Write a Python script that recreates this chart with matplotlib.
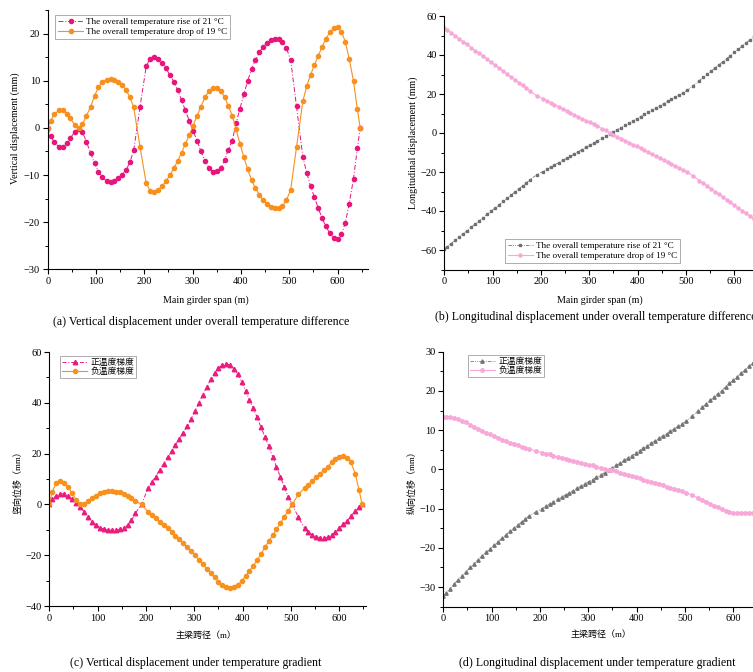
import numpy as np
import matplotlib
matplotlib.use("Agg")
import matplotlib.pyplot as plt
from matplotlib.ticker import MultipleLocator

plt.rcParams['font.family'] = ['Liberation Serif', 'Noto Sans CJK SC', 'DejaVu Sans']
plt.rcParams['axes.linewidth'] = 0.8
plt.rcParams['xtick.direction'] = 'out'
plt.rcParams['ytick.direction'] = 'out'

# node positions along the girder (m)
span = [0, 6, 14, 23, 31, 39, 47, 56, 64, 72, 80, 89, 97, 105, 113, 122, 130, 138, 146, 154, 162, 170, 178,
        191, 204, 212, 220, 228, 237, 245, 253, 261, 269, 277, 285, 293, 301, 309, 317, 326, 334, 342, 350,
        358, 366, 374, 382, 390, 398, 406, 414, 422, 430, 438, 446, 454, 462, 470, 478, 486, 494, 503,
        515, 528, 536, 544, 552, 560, 568, 576, 584, 592, 600, 608, 616, 624, 633, 641, 647]

# (a) vertical displacement, overall temperature (mm)
vert_rise = [0, -1.7, -3.1, -4.0, -4.0, -3.3, -2.1, -0.9, -0.2, -0.9, -2.9, -5.4, -7.5, -9.3, -10.4, -11.3,
             -11.4, -11.2, -10.7, -9.9, -9.0, -7.3, -4.8,
             4.4, 13.1, 14.7, 15.0, 14.6, 13.8, 12.6, 11.2, 9.8, 8.0, 5.9, 3.7, 1.5, -0.6, -2.7, -4.9, -7.1,
             -8.5, -9.3, -9.2, -8.6, -6.9, -4.6, -2.7, 1.0, 4.1, 7.1, 10.0, 12.5, 14.3, 16.0, 17.2, 18.1, 18.7,
             18.9, 18.9, 18.2, 17.0, 14.3,
             4.6, -6.1, -9.5, -12.3, -14.7, -17.0, -19.2, -20.9, -22.4, -23.3, -23.5, -22.6, -20.2, -16.1,
             -10.8, -4.3, 0.0]
vert_drop = [0, 1.5, 2.9, 3.7, 3.7, 3.0, 2.0, 0.6, 0.0, 0.8, 2.5, 4.5, 6.8, 8.6, 9.7, 10.2, 10.3, 10.2, 9.7,
             9.1, 8.1, 6.5, 4.4,
             -4.0, -11.8, -13.3, -13.5, -13.2, -12.3, -11.3, -10.0, -8.6, -7.0, -5.3, -3.4, -1.5, 0.5, 2.5,
             4.5, 6.6, 7.8, 8.4, 8.4, 7.8, 6.6, 4.6, 2.6, -0.3, -3.4, -6.2, -8.8, -11.1, -12.8, -14.2, -15.3,
             -16.2, -16.8, -17.1, -17.0, -16.5, -15.4, -13.1,
             -4.1, 5.6, 8.8, 11.2, 13.3, 15.3, 17.2, 18.9, 20.3, 21.1, 21.3, 20.4, 18.3, 14.7, 9.9, 3.9, 0.0]

# (b) longitudinal displacement, overall temperature (mm)
long_rise = [-59.5, -58.3, -56.7, -54.9, -53.3, -51.7, -50.1, -48.3, -46.7, -45.1, -43.5, -41.7, -40.1,
             -38.5, -36.9, -35.1, -33.5, -31.9, -30.3, -28.7, -27.1, -25.5, -23.9,
             -21.4, -19.8, -18.7, -17.6, -16.4, -15.2, -14.1, -13.0, -11.9, -10.8, -9.6, -8.5, -7.4, -6.3,
             -5.2, -4.1, -2.8, -1.7, -0.6, 0.6, 1.7, 2.8, 3.9, 5.0, 6.1, 7.3, 8.4, 9.5, 10.6, 11.7, 12.8, 13.9,
             15.1, 16.2, 17.3, 18.4, 19.5, 20.6, 21.9,
             24.3, 26.9, 28.5, 30.1, 31.7, 33.3, 34.9, 36.5, 38.1, 39.7, 41.3, 42.9, 44.5, 46.1, 47.9, 49.5, 50.7]
long_drop = [54.0, 52.9, 51.4, 49.8, 48.3, 46.9, 45.4, 43.8, 42.3, 40.8, 39.4, 37.7, 36.2, 34.8, 33.3, 31.7,
             30.2, 28.7, 27.3, 25.8, 24.4, 22.9, 21.4,
             19.1, 17.6, 16.6, 15.6, 14.6, 13.4, 12.4, 11.4, 10.4, 9.4, 8.4, 7.4, 6.4, 5.4, 4.4, 3.4, 2.3, 1.3,
             0.1, -0.9, -1.9, -2.9, -3.9, -4.9, -5.9, -6.9, -7.9, -8.9, -9.9, -10.9, -11.9, -12.9, -13.9,
             -14.9, -15.9, -16.9, -17.9, -18.9, -20.0,
             -22.1, -24.4, -25.8, -27.2, -28.6, -30.0, -31.4, -32.8, -34.2, -35.6, -37.0, -38.4, -39.8, -41.2,
             -42.8, -44.2, -45.2]

# (c) vertical displacement, temperature gradient (mm)
vert_pos = [0, 2.0, 3.4, 4.2, 4.2, 3.4, 2.0, 0.4, -0.9, -2.9, -4.9, -6.8, -8.1, -9.1, -9.7, -10.1, -10.1,
            -10.1, -9.8, -9.2, -8.2, -6.3, -3.5,
            0, 6.3, 8.9, 10.9, 13.5, 16.1, 18.8, 21.1, 23.4, 25.9, 28.2, 30.8, 33.5, 36.7, 39.8, 43.0, 46.3,
            49.2, 51.8, 53.7, 55.0, 55.3, 55.0, 53.4, 51.3, 48.3, 44.8, 41.1, 37.8, 34.3, 30.3, 26.7, 23.0,
            18.8, 14.8, 10.9, 7.0, 3.0, 0.0,
            -5.0, -9.3, -10.9, -12.0, -12.7, -13.1, -13.25, -12.9, -12.1, -10.9, -9.4, -7.8, -6.4, -4.6,
            -2.6, -1.0, 0.0]
vert_neg = [0, 5.0, 8.3, 9.2, 8.3, 7.0, 4.3, 1.7, 0.1, 0.0, 1.4, 2.6, 3.5, 4.3, 4.9, 5.1, 5.1, 5.0, 4.7, 4.1,
            3.4, 2.4, 1.3,
            0, -2.9, -4.2, -5.5, -6.8, -8.1, -9.4, -10.7, -12.3, -13.7, -15.3, -16.7, -18.4, -19.9, -21.7,
            -23.5, -25.3, -27.2, -28.7, -30.4, -31.8, -32.5, -32.8, -32.5, -31.8, -30.1, -28.2, -26.2, -24.1,
            -21.9, -19.6, -16.9, -14.6, -12.2, -9.8, -7.5, -4.9, -2.5, 0,
            3.9, 6.4, 7.8, 9.3, 10.7, 12.1, 13.4, 14.8, 16.5, 17.9, 18.8, 18.9, 18.3, 16.5, 12.0, 5.6, 0.0]

# (d) longitudinal displacement, temperature gradient (mm)
long_pos = [-32.3, -31.5, -30.4, -29.2, -28.1, -27.1, -26.1, -25.0, -24.0, -23.0, -22.1, -21.1, -20.2,
            -19.3, -18.4, -17.5, -16.6, -15.8, -15.0, -14.2, -13.4, -12.6, -11.8,
            -10.9, -10.0, -9.4, -8.8, -8.3, -7.6, -7.1, -6.5, -6.0, -5.4, -4.8, -4.3, -3.7, -3.1, -2.6, -2.0,
            -1.4, -0.8, -0.2, 0.4, 1.0, 1.6, 2.3, 2.9, 3.5, 4.1, 4.8, 5.4, 6.0, 6.6, 7.3, 7.9, 8.5, 9.1, 9.8,
            10.4, 11.0, 11.6, 12.3,
            13.6, 15.0, 15.8, 16.7, 17.6, 18.4, 19.3, 20.1, 21.0, 21.9, 22.7, 23.6, 24.5, 25.3, 26.3, 27.2, 27.8]
long_neg = [13.4, 13.4, 13.3, 13.1, 12.8, 12.4, 12.0, 11.4, 10.9, 10.4, 9.9, 9.4, 8.9, 8.5, 8.0, 7.6, 7.2,
            6.8, 6.4, 6.1, 5.8, 5.5, 5.2,
            4.7, 4.3, 4.0, 3.8, 3.5, 3.2, 3.0, 2.7, 2.5, 2.2, 2.0, 1.7, 1.5, 1.2, 1.0, 0.7, 0.4, 0.2, -0.1,
            -0.2, -0.5, -0.8, -1.1, -1.4, -1.7, -2.0, -2.3, -2.6, -2.9, -3.2, -3.5, -3.8, -4.1, -4.4, -4.7,
            -5.0, -5.3, -5.6, -5.9,
            -6.6, -7.3, -7.8, -8.3, -8.8, -9.3, -9.7, -10.1, -10.5, -10.8, -11.0, -11.1, -11.2, -11.2, -11.2,
            -11.2, -11.1]

W, H = 753, 672
fig = plt.figure(figsize=(W / 100, H / 100), dpi=100)


def px_axes(left, top, right, bottom):
    return fig.add_axes([left / W, 1 - bottom / H, (right - left) / W, (bottom - top) / H])


def style(ax, xlim, ylim, ymaj, ymin, xlabel, ylabel, ylab_y=0.5, cjk=False):
    ax.set_xlim(*xlim)
    ax.set_ylim(*ylim)
    ax.spines['top'].set_visible(False)
    ax.spines['right'].set_visible(False)
    ax.xaxis.set_major_locator(MultipleLocator(100))
    ax.xaxis.set_minor_locator(MultipleLocator(50))
    ax.yaxis.set_major_locator(MultipleLocator(ymaj))
    ax.yaxis.set_minor_locator(MultipleLocator(ymin))
    ax.tick_params(which='major', length=3.5, width=0.8, labelsize=7.5, pad=2)
    ax.tick_params(which='minor', length=2, width=0.7)
    fs = 6.5 if cjk else 7.2
    ax.set_xlabel(xlabel, fontsize=fs, va='center')
    ax.set_ylabel(ylabel, fontsize=fs, va='center')
    ax.xaxis.set_label_coords(0.495, -0.118)
    ax.yaxis.set_label_coords(-0.1, ylab_y)


def legend(ax, **kw):
    leg = ax.legend(borderaxespad=0, frameon=True, fancybox=False, edgecolor='#888888',
                    handlelength=2.8, **kw)
    leg.get_frame().set_linewidth(0.6)


# (a)
ax = px_axes(47.7, 10, 368, 269.3)
ax.plot(span, vert_rise, color='#E8157C', lw=0.7, ls=(0, (5, 2, 1, 2)), marker='o', ms=3.0,
        label='The overall temperature rise of 21 °C')
ax.plot(span, vert_drop, color='#F7901E', lw=0.8, marker='o', ms=3.0,
        label='The overall temperature drop of 19 °C')
style(ax, (0, 663), (-30, 25), 10, 5, 'Main girder span (m)', 'Vertical displacement (mm)', 0.545)
legend(ax, loc='upper left', bbox_to_anchor=(0.023, 0.982), fontsize=6.6, handletextpad=0.3,
       borderpad=0.3, labelspacing=0.2)

# (b)
ax = px_axes(444.3, 16, 764.7, 269.5)
ax.plot(span, long_rise, color='#707070', lw=0.6, ls=(0, (4, 1.5, 1, 1.5, 1, 1.5)), marker='s', ms=1.8,
        label='The overall temperature rise of 21 °C')
ax.plot(span, long_drop, color='#F7A8D8', lw=0.8, marker='o', ms=2.2,
        label='The overall temperature drop of 19 °C')
style(ax, (0, 663), (-70, 60), 20, 10, 'Main girder span (m)', 'Longitudinal displacement (mm)', 0.5)
ax.xaxis.set_label_coords(0.486, -0.12)
ax.yaxis.set_label_coords(-0.098, 0.5)
legend(ax, loc='lower left', bbox_to_anchor=(0.189, 0.026), fontsize=6.6, handletextpad=0.3,
       borderpad=0.3, labelspacing=0.2)

# (c)
ax = px_axes(49.3, 352, 365.9, 606)
ax.plot(span, vert_pos, color='#EC1C7F', lw=0.7, ls=(0, (4, 2, 1, 2)), marker='^', ms=3.2,
        label='正温度梯度')
ax.plot(span, vert_neg, color='#F7921E', lw=0.8, marker='o', ms=3.0, label='负温度梯度')
style(ax, (0, 655), (-40, 60), 20, 10, '主梁跨径（m）', '竖向位移（mm）', 0.496, cjk=True)
ax.yaxis.set_label_coords(-0.099, 0.496)
legend(ax, loc='upper left', bbox_to_anchor=(0.034, 0.984), fontsize=6.3, handletextpad=0.4,
       borderpad=0.25, labelspacing=0.1)

# (d)
ax = px_axes(443.3, 351.7, 763.7, 606.7)
ax.plot(span, long_pos, color='#757575', lw=0.6, ls=(0, (4, 1.5, 1, 1.5, 1, 1.5)), marker='^', ms=2.4,
        label='正温度梯度')
ax.plot(span, long_neg, color='#F7A8D8', lw=0.8, marker='o', ms=2.5, label='负温度梯度')
style(ax, (0, 663), (-35, 30), 10, 5, '主梁跨径（m）', '纵向位移（mm）', 0.497, cjk=True)
ax.xaxis.set_label_coords(0.491, -0.111)
ax.yaxis.set_label_coords(-0.098, 0.497)
legend(ax, loc='upper left', bbox_to_anchor=(0.077, 0.987), fontsize=6.3, handletextpad=0.4,
       borderpad=0.25, labelspacing=0.1)

# captions
cap = 8.6
fig.text(201 / W, 1 - 322 / H, '(a) Vertical displacement under overall temperature difference',
         ha='center', va='center', fontsize=cap)
fig.text(435 / W, 1 - 317 / H, '(b) Longitudinal displacement under overall temperature difference',
         ha='left', va='center', fontsize=cap)
fig.text(196 / W, 1 - 663 / H, '(c) Vertical displacement under temperature gradient',
         ha='center', va='center', fontsize=cap)
fig.text(459 / W, 1 - 663 / H, '(d) Longitudinal displacement under temperature gradient',
         ha='left', va='center', fontsize=cap)

fig.savefig('out.png', dpi=100)
